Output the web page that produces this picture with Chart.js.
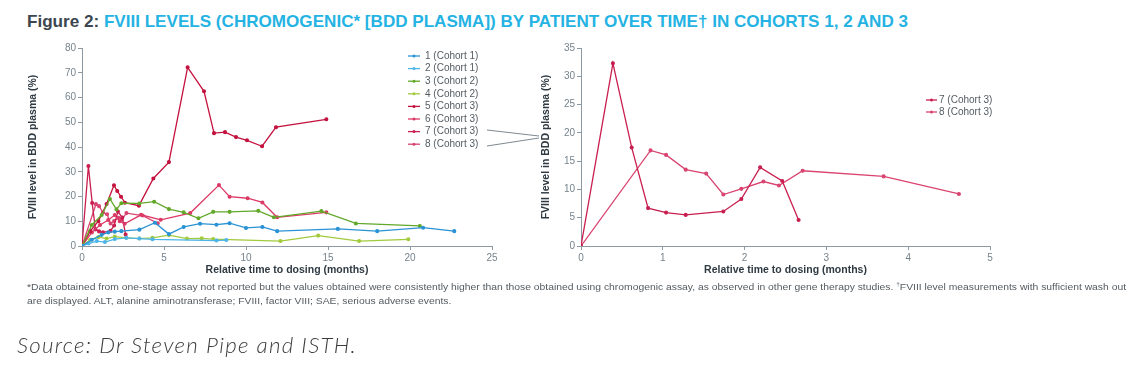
<!DOCTYPE html>
<html>
<head>
<meta charset="utf-8">
<script src="https://cdn.jsdelivr.net/npm/chart.js@4/dist/chart.umd.min.js"></script>
<style>
  body { margin: 0; background: #ffffff; width: 1142px; height: 369px; overflow: hidden; position: relative; font-family: "Liberation Sans", Arial, sans-serif; }
  #title { position: absolute; left: 27px; top: 12px; font-weight: bold; font-size: 17px; line-height: 20px; color: #25b3e3; white-space: nowrap; }
  #title span { color: #3b4650; }
  #leftWrap { position: absolute; left: 0; top: 40px; width: 540px; height: 240px; }
  #rightWrap { position: absolute; left: 540px; top: 40px; width: 602px; height: 240px; }
  #links { position: absolute; left: 0; top: 0; width: 1142px; height: 369px; pointer-events: none; }
  .note { position: absolute; left: 27px; font-size: 9.5px; color: #555b60; white-space: nowrap; transform-origin: left center; }
  #source { position: absolute; left: 17px; top: 332px; font-family: Lato, "Open Sans", sans-serif; font-style: italic; font-weight: 300; font-size: 21px; line-height: 26px; letter-spacing: 1.2px; color: #3c3c3c; white-space: nowrap; transform-origin: left center; }
</style>
</head>
<body>
<div id="title"><span>Figure 2:</span> FVIII LEVELS (CHROMOGENIC* [BDD PLASMA]) BY PATIENT OVER TIME† IN COHORTS 1, 2 AND 3</div>
<div id="leftWrap"><canvas id="leftChart"></canvas></div>
<div id="rightWrap"><canvas id="rightChart"></canvas></div>
<svg id="links" width="1142" height="369">
  <line x1="487" y1="130" x2="539" y2="136" stroke="#7f8a92" stroke-width="1"/>
  <line x1="487" y1="146" x2="539" y2="138" stroke="#7f8a92" stroke-width="1"/>
</svg>
<div class="note" id="note1" style="top:281px">*Data obtained from one-stage assay not reported but the values obtained were consistently higher than those obtained using chromogenic assay, as observed in other gene therapy studies. <sup style="font-size:6px">†</sup>FVIII level measurements with sufficient wash out</div>
<div class="note" id="note2" style="top:295px">are displayed. ALT, alanine aminotransferase; FVIII, factor VIII; SAE, serious adverse events.</div>
<div id="source">Source: Dr Steven Pipe and ISTH.</div>

<script>
// Patient labels
var patientLabels = ['1 (Cohort 1)', '2 (Cohort 1)', '3 (Cohort 2)', '4 (Cohort 2)',
                     '5 (Cohort 3)', '6 (Cohort 3)', '7 (Cohort 3)', '8 (Cohort 3)'];
var patientColors = ['#2a93d5', '#4db5e8', '#62a82a', '#a2ca3d',
                     '#c4123f', '#dc3a66', '#c91f50', '#d94470'];

// Relative time to dosing (months) and FVIII level (%) per patient
var p1Months = [0, 0.6, 1.2, 1.6, 2.0, 2.4, 3.5, 4.45, 5.3, 6.2, 7.2, 8.2, 9.0, 10.0, 11.0, 11.9, 15.6, 18.0, 20.8, 22.7];
var p1Fviii  = [0, 2.5, 4.5, 5.5, 5.8, 6.0, 6.6, 9.4, 4.8, 7.7, 9.0, 8.6, 9.2, 7.3, 7.7, 6.0, 6.9, 6.0, 7.4, 6.0];
var p2Months = [0, 0.4, 0.9, 1.4, 2.0, 2.7, 3.5, 4.3, 8.2, 8.8];
var p2Fviii  = [0, 1.0, 2.0, 1.6, 2.8, 3.3, 3.0, 2.7, 2.2, 2.4];
var p3Months = [0, 0.6, 1.2, 1.7, 2.1, 2.4, 3.5, 4.4, 5.3, 6.2, 7.1, 8.0, 9.0, 10.75, 11.7, 14.6, 16.7, 20.6];
var p3Fviii  = [0, 8.5, 12.5, 19.0, 14.8, 17.3, 17.2, 17.9, 14.9, 13.6, 11.2, 13.8, 13.8, 14.2, 11.6, 14.1, 9.1, 8.1];
var p4Months = [0, 0.5, 1.0, 1.5, 2.0, 2.7, 3.5, 4.3, 5.3, 6.4, 7.3, 8.0, 12.1, 14.4, 16.9, 19.9];
var p4Fviii  = [0, 2.5, 3.6, 3.0, 3.8, 3.3, 3.0, 3.3, 4.4, 3.0, 3.1, 2.8, 2.0, 4.2, 2.0, 2.7];
var p5Months = [0, 0.5, 1.0, 1.5, 1.95, 2.15, 2.38, 2.62, 3.47, 4.35, 5.3, 6.44, 7.44, 8.05, 8.72, 9.39, 10.06, 10.98, 11.83, 14.9];
var p5Fviii  = [0, 6, 10, 17, 24.5, 22.2, 19.9, 17.5, 16.3, 27.3, 33.9, 72.2, 62.5, 45.6, 46, 44, 42.7, 40.3, 48, 51.2];
var p6Months = [0, 0.6, 1.1, 1.6, 2.0, 2.3, 2.6, 3.6, 4.8, 6.6, 8.35, 9.0, 10.1, 11.0, 11.9, 14.9];
var p6Fviii  = [0, 5.5, 8.5, 10.5, 12.5, 10.0, 9.0, 12.6, 10.6, 13.3, 24.6, 19.9, 19.3, 17.6, 11.6, 13.6];
var p7Months = [0, 0.39, 0.62, 0.82, 1.04, 1.28, 1.74, 1.96, 2.19, 2.46, 2.66];
var p7Fviii  = [0, 32.3, 17.4, 6.7, 5.9, 5.5, 6.1, 8.3, 13.9, 11.5, 4.6];
var p8Months = [0, 0.85, 1.04, 1.28, 1.53, 1.74, 1.96, 2.23, 2.42, 2.71, 3.70, 4.62];
var p8Fviii  = [0, 16.9, 16.1, 13.5, 12.8, 9.1, 10.1, 11.4, 10.7, 13.3, 12.3, 9.2];

var allMonths = [p1Months, p2Months, p3Months, p4Months, p5Months, p6Months, p7Months, p8Months];
var allFviii  = [p1Fviii, p2Fviii, p3Fviii, p4Fviii, p5Fviii, p6Fviii, p7Fviii, p8Fviii];

// Axis ticks
var leftXTicks  = [0, 5, 10, 15, 20, 25];
var leftYTicks  = [0, 10, 20, 30, 40, 50, 60, 70, 80];
var rightXTicks = [0, 1, 2, 3, 4, 5];
var rightYTicks = [0, 5, 10, 15, 20, 25, 30, 35];

var axisGray = '#8d9aa3';
var tickGray = '#76838c';
var fontFamily = '"Liberation Sans", Arial, sans-serif';

function makeDataset(i) {
    return {
        label: patientLabels[i],
        data: allMonths[i].map(function (m, k) { return { x: m, y: allFviii[i][k] }; }),
        borderColor: patientColors[i],
        backgroundColor: patientColors[i],
        borderWidth: 1.3,
        pointRadius: 1.4,
        pointHoverRadius: 1.4,
        tension: 0
    };
}

// Small legend drawn inside the canvas at a fixed spot
var sideLegend = {
    id: 'sideLegend',
    afterDraw: function (chart, args, opts) {
        var ctx = chart.ctx;
        ctx.save();
        ctx.font = opts.font;
        ctx.textBaseline = 'middle';
        chart.data.datasets.forEach(function (ds, i) {
            var y = opts.y + i * opts.gap;
            ctx.strokeStyle = ds.borderColor;
            ctx.lineWidth = 1.3;
            ctx.beginPath();
            ctx.moveTo(opts.x, y);
            ctx.lineTo(opts.x + opts.len, y);
            ctx.stroke();
            ctx.fillStyle = ds.borderColor;
            ctx.beginPath();
            ctx.arc(opts.x + opts.len / 2, y, 1.5, 0, Math.PI * 2);
            ctx.fill();
            ctx.fillStyle = opts.color;
            ctx.fillText(ds.label, opts.x + opts.len + opts.textGap, y);
        });
        ctx.restore();
    }
};

function axisOptions(min, max, ticks, title, fixedSize, isY, titlePad) {
    return {
        type: 'linear',
        min: min,
        max: max,
        afterBuildTicks: function (s) { s.ticks = ticks.map(function (v) { return { value: v }; }); },
        afterFit: function (s) { if (isY) { s.width = fixedSize; } else { s.height = fixedSize; } },
        grid: { drawOnChartArea: false, drawTicks: true, tickLength: 4, color: axisGray },
        border: { display: true, color: axisGray, width: 1 },
        ticks: { color: tickGray, font: { family: fontFamily, size: 10 }, padding: 2, maxRotation: 0, autoSkip: false },
        title: { display: true, text: title, color: '#2f3a42', font: { family: fontFamily, size: 10.5, weight: 'bold' }, padding: titlePad }
    };
}

var yTitle = 'FVIII level in BDD plasma (%)';
var xTitle = 'Relative time to dosing (months)';

// Left chart: all patients
var leftCtx = document.getElementById('leftChart').getContext('2d');
var leftChart = new Chart(leftCtx, {
    type: 'line',
    data: { datasets: [0, 1, 2, 3, 4, 5, 6, 7].map(makeDataset) },
    options: {
        responsive: true,
        maintainAspectRatio: false,
        animation: false,
        layout: { padding: { left: 23, right: 48, top: 7, bottom: 0 } },
        scales: {
            x: axisOptions(0, 25, leftXTicks, xTitle, 34, false, { top: 0, bottom: 4 }),
            y: axisOptions(0, 80, leftYTicks, yTitle, 59, true, { top: 4, bottom: 0 })
        },
        plugins: {
            legend: { display: false },
            tooltip: { enabled: false },
            sideLegend: { x: 408, y: 16, gap: 12.6, len: 12, textGap: 5, font: '10px ' + fontFamily, color: '#545c62' }
        }
    },
    plugins: [sideLegend]
});

// Right chart: cohort 3 patients 7 and 8
var rightCtx = document.getElementById('rightChart').getContext('2d');
var rightChart = new Chart(rightCtx, {
    type: 'line',
    data: { datasets: [6, 7].map(makeDataset) },
    options: {
        responsive: true,
        maintainAspectRatio: false,
        animation: false,
        layout: { padding: { left: 0, right: 152, top: 8, bottom: 0 } },
        scales: {
            x: axisOptions(0, 5, rightXTicks, xTitle, 34, false, { top: 0, bottom: 4 }),
            y: axisOptions(0, 35, rightYTicks, yTitle, 41, true, { top: 0, bottom: 0 })
        },
        plugins: {
            legend: { display: false },
            tooltip: { enabled: false },
            sideLegend: { x: 386, y: 60, gap: 12, len: 11, textGap: 2, font: '10px ' + fontFamily, color: '#545c62' }
        }
    },
    plugins: [sideLegend]
});

// Fit text blocks to the widths they take in the original
function fitWidth(id, target, others) {
    var el = document.getElementById(id);
    var k = target / el.getBoundingClientRect().width;
    [id].concat(others || []).forEach(function (e) {
        document.getElementById(e).style.transform = 'scaleX(' + k + ')';
    });
}
document.getElementById('title').style.transformOrigin = 'left center';
fitWidth('title', 881);
fitWidth('note1', 1099, ['note2']);
fitWidth('source', 340);
</script>
</body>
</html>
